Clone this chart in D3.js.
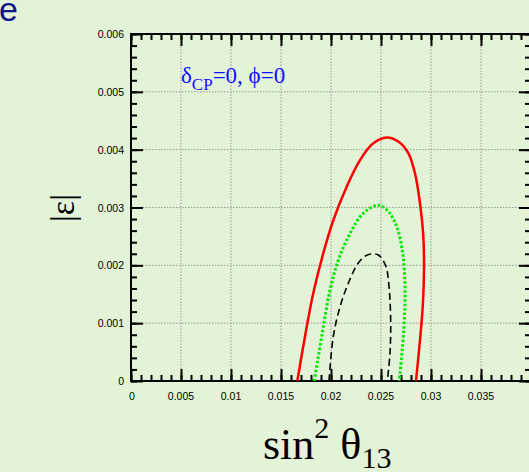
<!DOCTYPE html>
<html>
<head>
<meta charset="utf-8">
<script src="https://cdn.jsdelivr.net/npm/d3@7"></script>
<style>
  html, body { margin: 0; padding: 0; background: #e3f3d8; overflow: hidden; }
  svg { display: block; }
</style>
</head>
<body>
<script>
// Chart data
const xTicks = [0, 0.005, 0.01, 0.015, 0.02, 0.025, 0.03, 0.035];
const xTickLabels = ["0", "0.005", "0.01", "0.015", "0.02", "0.025", "0.03", "0.035"];
const yTicks = [0, 0.001, 0.002, 0.003, 0.004, 0.005, 0.006];
const yTickLabels = ["0", "0.001", "0.002", "0.003", "0.004", "0.005", "0.006"];

// red solid contour
const redCurve = [
    [0.01663, 0], [0.0174, 0.00077], [0.01823, 0.00152], [0.01923, 0.00221],
    [0.02023, 0.00278], [0.02157, 0.00336], [0.0229, 0.00382], [0.02423, 0.00411],
    [0.02557, 0.00421], [0.02673, 0.00414], [0.02773, 0.00394], [0.0284, 0.00359],
    [0.0289, 0.00307], [0.02923, 0.0025], [0.0293, 0.00192], [0.02917, 0.00128],
    [0.0289, 0.00071], [0.0285, 0]
];
// green dotted contour
const greenCurve = [
    [0.01833, 0], [0.01907, 0.00077], [0.0199, 0.00157], [0.02073, 0.00209],
    [0.0219, 0.00255], [0.02323, 0.0029], [0.02473, 0.00304], [0.02573, 0.00293],
    [0.02657, 0.00267], [0.02717, 0.00221], [0.0274, 0.00163], [0.0273, 0.00094],
    [0.02683, 0]
];
// black dashed contour
const blackCurve = [
    [0.0198, 0], [0.02023, 0.00077], [0.0209, 0.00128], [0.02173, 0.00169],
    [0.02273, 0.00204], [0.02363, 0.00218], [0.02473, 0.00218], [0.0255, 0.00198],
    [0.02573, 0.00175], [0.0259, 0.0014], [0.02597, 0.00094], [0.0259, 0.00048],
    [0.02563, 0]
];

const width = 529;
const height = 472;
const margin = { left: 131, top: 34, right: 531, bottom: 381 };

const svg = d3.select("body")
    .append("svg")
    .attr("width", width)
    .attr("height", height);

const x = d3.scaleLinear().domain([0, 0.04]).range([margin.left, margin.right]);
const y = d3.scaleLinear().domain([0, 0.006]).range([margin.bottom, margin.top]);

// cut-off letter top left
svg.append("text")
    .attr("x", -1)
    .attr("y", 21)
    .attr("fill", "#15158a")
    .style("font-family", "Liberation Sans, Arial, sans-serif")
    .style("font-size", "34px")
    .text("e");

// grid
const grid = svg.append("g")
    .attr("stroke", "#9a9a9a")
    .attr("stroke-width", 1)
    .attr("stroke-dasharray", "1.5,1.5");

grid.selectAll("line.vx")
    .data(xTicks.filter(d => d > 0))
    .join("line")
    .attr("x1", d => x(d)).attr("x2", d => x(d))
    .attr("y1", y(0)).attr("y2", y(0.006));

grid.selectAll("line.hy")
    .data(yTicks.filter(d => d > 0 && d < 0.006))
    .join("line")
    .attr("x1", x(0)).attr("x2", x(0.04))
    .attr("y1", d => y(d)).attr("y2", d => y(d));

// axes, ticks inward
const xMinor = d3.range(0, 0.0401, 0.001);
const yMinor = d3.range(0, 0.00601, 0.0002);

function tickAxis(axisGen, transform) {
    const g = svg.append("g").attr("transform", transform).call(axisGen);
    g.select(".domain").remove();
    g.selectAll("line").attr("stroke", "#000").attr("stroke-width", 2);
    return g;
}

tickAxis(d3.axisTop(x).tickValues(xMinor).tickSize(6).tickFormat(""), `translate(0,${y(0)})`);
tickAxis(d3.axisTop(x).tickValues(xTicks.concat([0.04])).tickSize(12).tickFormat(""), `translate(0,${y(0)})`);
tickAxis(d3.axisBottom(x).tickValues(xMinor).tickSize(6).tickFormat(""), `translate(0,${y(0.006)})`);
tickAxis(d3.axisBottom(x).tickValues(xTicks.concat([0.04])).tickSize(12).tickFormat(""), `translate(0,${y(0.006)})`);
tickAxis(d3.axisRight(y).tickValues(yMinor).tickSize(6).tickFormat(""), `translate(${x(0)},0)`);
tickAxis(d3.axisRight(y).tickValues(yTicks).tickSize(12).tickFormat(""), `translate(${x(0)},0)`);
tickAxis(d3.axisLeft(y).tickValues(yMinor).tickSize(6).tickFormat(""), `translate(${x(0.04)},0)`);
tickAxis(d3.axisLeft(y).tickValues(yTicks).tickSize(12).tickFormat(""), `translate(${x(0.04)},0)`);

// frame
svg.append("rect")
    .attr("x", x(0)).attr("y", y(0.006))
    .attr("width", x(0.04) - x(0)).attr("height", y(0) - y(0.006))
    .attr("fill", "none").attr("stroke", "#000").attr("stroke-width", 2);

// tick labels
const labelFont = "Liberation Sans, Arial, sans-serif";
svg.append("g").selectAll("text")
    .data(xTicks)
    .join("text")
    .attr("x", (d, i) => x(d) + (i === 0 ? 1 : 0))
    .attr("y", 400)
    .attr("text-anchor", "middle")
    .style("font-family", labelFont)
    .style("font-size", "10.5px")
    .text((d, i) => xTickLabels[i]);

svg.append("g").selectAll("text")
    .data(yTicks)
    .join("text")
    .attr("x", 124)
    .attr("y", d => y(d) + 4)
    .attr("text-anchor", "end")
    .style("font-family", labelFont)
    .style("font-size", "10.5px")
    .text((d, i) => yTickLabels[i]);

// curves
const line = d3.line()
    .x(d => x(d[0]))
    .y(d => y(d[1]))
    .curve(d3.curveCatmullRom.alpha(0.5));

svg.append("path").datum(redCurve)
    .attr("d", line).attr("fill", "none")
    .attr("stroke", "#ff0000").attr("stroke-width", 2.5);

svg.append("path").datum(greenCurve)
    .attr("d", line).attr("fill", "none")
    .attr("stroke", "#00e800").attr("stroke-width", 3)
    .attr("stroke-dasharray", "2.5,2");

svg.append("path").datum(blackCurve)
    .attr("d", line).attr("fill", "none")
    .attr("stroke", "#000").attr("stroke-width", 1.6)
    .attr("stroke-dasharray", "7,4");

// annotation
const serif = "Liberation Serif, Times New Roman, serif";
const ann = svg.append("text")
    .attr("x", 181)
    .attr("y", 83)
    .attr("fill", "#1010ff")
    .style("font-family", serif)
    .style("font-size", "23px");
ann.append("tspan").text("δ");
ann.append("tspan").attr("dy", 7).style("font-size", "17px").text("CP");
ann.append("tspan").attr("dy", -7).text("=0, ϕ=0");

// x label
const xl = svg.append("text")
    .attr("x", 263)
    .attr("y", 459)
    .style("font-family", serif)
    .style("font-size", "44px");
xl.append("tspan").text("sin");
xl.append("tspan").attr("dy", -21).style("font-size", "30px").text("2");
xl.append("tspan").attr("dy", 21).text(" θ");
xl.append("tspan").attr("dy", 9).style("font-size", "30px").text("13");

// y label
svg.append("text")
    .attr("transform", "translate(74,208) rotate(-90)")
    .attr("text-anchor", "middle")
    .style("font-family", serif)
    .style("font-size", "34px")
    .text("|ε|");
</script>
</body>
</html>
